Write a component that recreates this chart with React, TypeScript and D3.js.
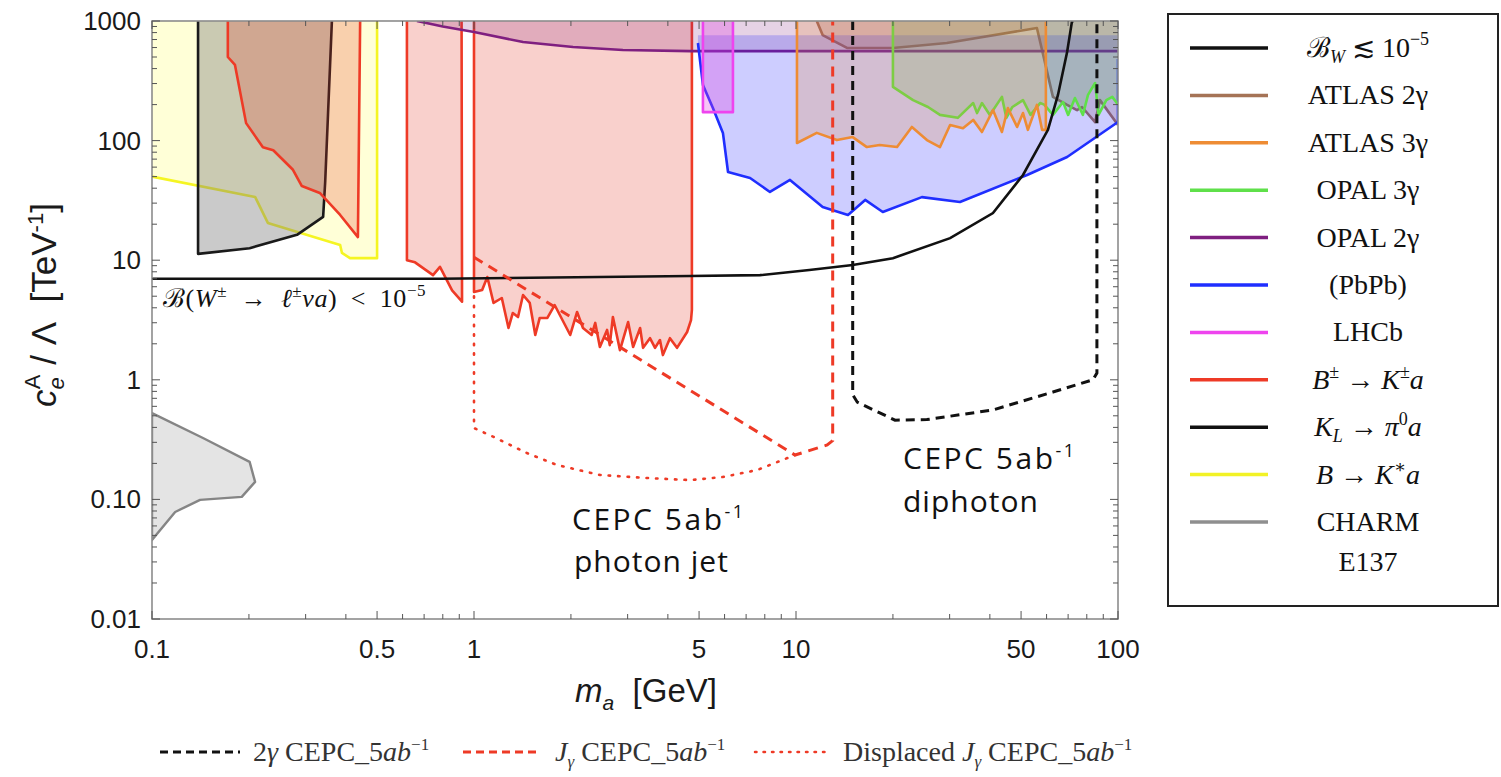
import React from 'react';
import * as d3 from 'd3';

type Pt = [number, number];

// ---------------- data: [m_a (GeV), c_e^A/Λ (TeV^-1)] ----------------
const bToKstarA: Pt[] = [[0.1, 50], [0.209, 33.8], [0.229, 20.5], [0.384, 13.4], [0.389, 11.5], [0.412, 10.4], [0.5, 10.4], [0.5, 1000]];
const kLtoPi0A: Pt[] = [[0.139, 1000], [0.139, 11.3], [0.201, 12.6], [0.282, 16.3], [0.34, 23], [0.345, 45], [0.352, 164], [0.362, 1000]];
const bToKaLow: Pt[] = [[0.172, 1000], [0.172, 500], [0.181, 429], [0.196, 140], [0.221, 88], [0.238, 83], [0.274, 57], [0.292, 41.7], [0.332, 36.5], [0.384, 23.9], [0.436, 15.6], [0.443, 1000]];
const bToKaMid: Pt[] = [[0.619, 1000], [0.619, 10.0], [0.656, 9.6], [0.746, 7.5], [0.784, 8.8], [0.855, 5.6], [0.918, 4.5], [0.915, 1000]];
const bToKaHigh: Pt[] = [
  [1.0, 1000], [1.0, 5.42], [1.06, 5.64], [1.10, 7.24], [1.15, 4.39], [1.22, 4.83], [1.28, 2.71], [1.32, 3.62], [1.37, 3.35],
  [1.42, 5.12], [1.49, 4.39], [1.55, 2.37], [1.60, 3.29], [1.69, 3.29], [1.78, 4.22], [1.99, 2.37], [2.09, 3.69], [2.18, 2.71],
  [2.32, 2.37], [2.38, 2.99], [2.46, 1.88], [2.59, 2.61], [2.64, 1.95], [2.70, 3.35], [2.84, 1.77], [3.01, 3.04], [3.12, 1.88],
  [3.28, 2.71], [3.35, 1.85], [3.52, 2.23], [3.65, 1.85], [3.78, 2.15], [3.86, 1.61], [4.06, 2.23], [4.27, 1.85], [4.59, 2.51],
  [4.72, 3.16], [4.75, 3.84], [4.75, 1000]];
const charmE137: Pt[] = [[0.1, 0.527], [0.144, 0.326], [0.201, 0.206], [0.209, 0.14], [0.19, 0.105], [0.141, 0.099], [0.118, 0.0785], [0.1, 0.0458]];
const opal2g: Pt[] = [[0.665, 1000], [0.8, 900], [1.0, 809], [1.42, 667], [2.03, 606], [2.9, 572], [4.7, 560], [100, 560]];
const pbpb: Pt[] = [[4.96, 655], [5.14, 292], [5.52, 187], [5.93, 116], [6.15, 54.6], [7.2, 48.7], [8.3, 37.2], [9.58, 46.9], [12.1, 27.9],
  [14.5, 23.9], [16.4, 31.9], [18.6, 25.3], [24.6, 33.7], [32.3, 30.7], [52.2, 51.6], [69.5, 72.9], [100, 143], [100, 480]];
const PBPB_CEILING = 760;
const lhcb: Pt[] = [[5.14, 1000], [5.14, 173], [6.37, 173], [6.37, 1000]];
const atlas3g: Pt[] = [[10.07, 1000], [10.07, 95.5], [11.6, 116], [13.4, 101], [15.0, 107], [16.6, 88.3], [18.2, 91.9], [20.6, 88.3], [22.9, 130],
  [25.5, 101], [28.0, 88.3], [30.1, 135], [33.0, 127], [35.5, 149], [37.8, 118], [40.9, 180], [43.6, 118], [45.5, 187], [48.6, 130],
  [50.7, 170], [52.5, 123], [56.0, 199], [58.1, 123], [59.7, 123], [59.7, 1000]];
const atlas2g: Pt[] = [[11.6, 1000], [12.1, 763], [14.4, 595], [20, 595], [29.4, 655], [56, 874], [62.8, 232], [69.5, 199], [74.6, 180],
  [77.3, 191], [84.9, 143], [87.9, 218], [100, 135]];
const opal3g: Pt[] = [[20, 1000], [20, 281], [23.1, 218], [25.7, 191], [28, 164], [31.8, 155], [35.5, 206], [36.5, 170], [37.8, 206], [40, 164],
  [43.6, 232], [45, 155], [47, 191], [50.7, 218], [53.5, 164], [57.3, 206], [59, 200], [62.8, 164], [67.5, 210], [70, 164], [73.5, 227],
  [77.8, 164], [80.7, 241], [84.9, 303], [87, 164], [92, 218], [96, 232], [100, 200]];
const bwLimit: Pt[] = [[0.1, 7.0], [0.784, 7.0], [4.69, 7.37], [7.73, 7.5], [11.0, 8.28], [15.0, 9.12], [20, 10.4], [30.1, 15.3], [40.9, 24.8],
  [50.7, 51.6], [60.6, 123], [65.1, 241], [69.5, 551], [71.9, 980], [72.5, 1000]];
const cepcDiphoton: Pt[] = [[15, 1000], [15, 0.75], [15.5, 0.65], [20.3, 0.46], [25.5, 0.465], [40.9, 0.56], [62.8, 0.79], [83.6, 1.0], [86, 1.14], [86, 1000]];
const cepcPhotonJet: Pt[] = [[1.0, 10.6], [9.93, 0.235], [12.5, 0.285], [13.0, 0.31], [13.0, 1000]];
const cepcDisplaced: Pt[] = [[1.0, 5], [1.0, 0.395], [1.15, 0.333], [1.46, 0.244], [1.81, 0.194], [2.46, 0.16], [3.44, 0.151], [4.69, 0.145],
  [5.93, 0.154], [7.57, 0.176], [9.93, 0.235]];

const xTickLabels: [number, string][] = [[0.1, '0.1'], [0.5, '0.5'], [1, '1'], [5, '5'], [10, '10'], [50, '50'], [100, '100']];
const yTickLabels: [number, string][] = [[1000, '1000'], [100, '100'], [10, '10'], [1, '1'], [0.1, '0.10'], [0.01, '0.01']];

const legendNames = ['BW', 'ATLAS 2γ', 'ATLAS 3γ', 'OPAL 3γ', 'OPAL 2γ', '(PbPb)', 'LHCb', 'B±', 'KL', 'BK*', 'CHARM'];
const legendColors = ['#111111', '#a57356', '#ee8c34', '#5fe04a', '#7f1f80', '#1f2eff', '#ee44ee', '#ee3a26', '#111111', '#f2f226', '#8f8f8f'];

// ---------------- layout ----------------
const W = 1501, H = 777;
const L = 152, R = 1118, T = 21, B = 619;
const YMAX = 1000;

export default function App() {
  const x = d3.scaleLog().domain([0.1, 100]).range([L, R]);
  const y = d3.scaleLog().domain([0.01, 1000]).range([B, T]);
  const line = d3.line<Pt>().x(d => x(d[0])).y(d => y(d[1]));
  const fillAbove = (pts: Pt[], ceil = YMAX) => {
    const poly: Pt[] = [[pts[0][0], ceil], ...pts, [pts[pts.length - 1][0], ceil]];
    return line(poly) + 'Z';
  };

  const region = (pts: Pt[], color: string, fill: string, op: number, key: string, ceil = YMAX, sw = 2.6) => (
    <g key={key}>
      <path d={fillAbove(pts, ceil)} fill={fill} fillOpacity={op} stroke="none" />
      <path d={line(pts) || ''} fill="none" stroke={color} strokeWidth={sw} strokeLinejoin="round" />
    </g>
  );

  const xt = x.ticks();
  const yt = y.ticks();
  const isDecade = (v: number) => Math.abs(Math.log10(v) - Math.round(Math.log10(v))) < 1e-6;
  const isFive = (v: number) => Math.abs(Math.log10(v / 5) - Math.round(Math.log10(v / 5))) < 1e-6;

  const serif = "'Liberation Serif', 'DejaVu Serif', serif";
  const sans = "'Liberation Sans', Arial, sans-serif";
  const legRowY = (i: number) => 48 + i * 47.4;
  const LX = 1368;

  const legendLabel = (i: number) => {
    const common = { x: LX, y: legRowY(i) + 9, textAnchor: 'middle' as const, fontFamily: serif, fontSize: 28, fill: '#111' };
    switch (i) {
      case 0: return <text {...common}>ℬ<tspan fontStyle="italic" fontSize={18} dy={6}>W</tspan><tspan dy={-6}>{' ≲ 10'}</tspan><tspan fontSize={18} dy={-12}>−5</tspan></text>;
      case 7: return <text {...common}><tspan fontStyle="italic">B</tspan><tspan fontSize={18} dy={-11}>±</tspan><tspan dy={11}>{'  →  '}</tspan><tspan fontStyle="italic">K</tspan><tspan fontSize={18} dy={-11}>±</tspan><tspan dy={11} fontStyle="italic">a</tspan></text>;
      case 8: return <text {...common}><tspan fontStyle="italic">K</tspan><tspan fontStyle="italic" fontSize={18} dy={6}>L</tspan><tspan dy={-6}>{'  →  '}</tspan><tspan fontStyle="italic">π</tspan><tspan fontSize={18} dy={-11}>0</tspan><tspan dy={11} fontStyle="italic">a</tspan></text>;
      case 9: return <text {...common}><tspan fontStyle="italic">B</tspan>{' → '}<tspan fontStyle="italic">K</tspan><tspan fontSize={18} dy={-11}>∗</tspan><tspan dy={11} fontStyle="italic">a</tspan></text>;
      case 10: return <text {...common}><tspan x={LX}>CHARM</tspan><tspan x={LX} dy={40}>E137</tspan></text>;
      default: return <text {...common}>{legendNames[i]}</text>;
    }
  };

  return (
    <svg width={W} height={H} style={{ position: 'absolute', left: 0, top: 0, background: '#fff' }}>
      <defs>
        <clipPath id="plot"><rect x={L} y={T} width={R - L} height={B - T} /></clipPath>
      </defs>
      <rect x={0} y={0} width={W} height={H} fill="#fff" />
      <g clipPath="url(#plot)">
        {region(bToKstarA, '#f5f522', '#ffff60', 0.25, 'bk')}
        {region(kLtoPi0A, '#1a1a1a', '#7a7a7a', 0.4, 'kl')}
        {region(bToKaLow, '#ee3a26', '#e8392a', 0.24, 'b1')}
        {region(bToKaMid, '#ee3a26', '#e8392a', 0.24, 'b2')}
        {region(bToKaHigh, '#ee3a26', '#e8392a', 0.24, 'b3')}
        <path d={(line(charmE137) || '') + 'Z'} fill="#e4e4e4" stroke="#858585" strokeWidth={2.4} strokeLinejoin="round" />
        {region(atlas2g, '#a57356', '#a0603a', 0.22, 'a2')}
        {region(opal2g, '#7f1f80', '#80207f', 0.2, 'o2')}
        {region(pbpb, '#1f2eff', '#1a1aff', 0.22, 'pb', PBPB_CEILING)}
        {region(lhcb, '#ee44ee', '#e040e0', 0.3, 'lh')}
        {region(opal3g, '#5fe04a', '#50c040', 0.2, 'o3')}
        {region(atlas3g, '#ee8c34', '#e88a30', 0.22, 'a3')}
        <path d={line(bwLimit) || ''} fill="none" stroke="#111" strokeWidth={2.6} />
        <path d={line(cepcDiphoton) || ''} fill="none" stroke="#111" strokeWidth={3} strokeDasharray="9 6" />
        <path d={line(cepcPhotonJet) || ''} fill="none" stroke="#ee3a26" strokeWidth={3} strokeDasharray="10 7" />
        <path d={line(cepcDisplaced) || ''} fill="none" stroke="#ee3a26" strokeWidth={2.6} strokeDasharray="1.5 8" strokeLinecap="round" />
      </g>

      {/* frame */}
      <rect x={L} y={T} width={R - L} height={B - T} fill="none" stroke="#8c8c8c" strokeWidth={1.6} />
      {xt.map((v, i) => {
        const len = isDecade(v) || isFive(v) ? 8 : 5;
        return <g key={'xt' + i} stroke="#555" strokeWidth={1}>
          <line x1={x(v)} x2={x(v)} y1={B} y2={B - len} />
          <line x1={x(v)} x2={x(v)} y1={T} y2={T + len} />
        </g>;
      })}
      {yt.map((v, i) => {
        const len = isDecade(v) ? 8 : 5;
        return <g key={'yt' + i} stroke="#555" strokeWidth={1}>
          <line x1={L} x2={L + len} y1={y(v)} y2={y(v)} />
          <line x1={R} x2={R - len} y1={y(v)} y2={y(v)} />
        </g>;
      })}
      {xTickLabels.map(([v, s]) => (
        <text key={'xl' + s} x={x(v)} y={658} textAnchor="middle" fontFamily={sans} fontSize={26} fill="#1a1a1a">{s}</text>
      ))}
      {yTickLabels.map(([v, s]) => (
        <text key={'yl' + s} x={141} y={y(v) + 9} textAnchor="end" fontFamily={sans} fontSize={26} fill="#1a1a1a">{s}</text>
      ))}

      {/* axis titles */}
      <text x={646} y={702} textAnchor="middle" fontFamily={sans} fontSize={33} fill="#1a1a1a">
        <tspan fontStyle="italic">m</tspan><tspan fontStyle="italic" fontSize={21} dy={8}>a</tspan><tspan dy={-8}>{'\u00a0\u00a0[GeV]'}</tspan>
      </text>
      <text transform="translate(56,305) rotate(-90)" textAnchor="middle" fontFamily={sans} fontSize={35} fill="#1a1a1a">
        <tspan fontStyle="italic">c</tspan><tspan fontStyle="italic" fontSize={22} dy={8}>e</tspan><tspan fontSize={22} dx={-12} dy={-24}>A</tspan><tspan dy={16}>{'\u00a0/ Λ\u00a0\u00a0[TeV'}</tspan><tspan fontSize={22} dy={-13}>-1</tspan><tspan dy={13}>]</tspan>
      </text>

      {/* in-plot annotations */}
      <text x={163} y={307} fontFamily={serif} fontSize={26} fill="#111" letterSpacing={0.6}>
        ℬ(<tspan fontStyle="italic">W</tspan><tspan fontSize={17} dy={-10}>±</tspan><tspan dy={10}>{'\u2002→\u2002'}</tspan><tspan fontStyle="italic">ℓ</tspan><tspan fontSize={17} dy={-10}>±</tspan><tspan dy={10} fontStyle="italic">νa</tspan>{')\u2002<\u200210'}<tspan fontSize={17} dy={-11}>−5</tspan>
      </text>
      <g fontFamily="'Open Sans', 'Liberation Sans', sans-serif" fontSize={30} fill="#111">
        <text x={572} y={530} letterSpacing={2.5}>CEPC 5ab<tspan fontSize={18} dy={-12}>-1</tspan></text>
        <text x={574} y={572} letterSpacing={1}>photon jet</text>
        <text x={903} y={469} letterSpacing={2.5}>CEPC 5ab<tspan fontSize={18} dy={-12}>-1</tspan></text>
        <text x={903} y={512} letterSpacing={1}>diphoton</text>
      </g>

      {/* right legend */}
      <rect x={1168} y={14} width={330} height={592} fill="#fff" stroke="#222" strokeWidth={2} />
      {legendNames.map((n, i) => (
        <g key={'lg' + n}>
          <line x1={1190} x2={1268} y1={legRowY(i)} y2={legRowY(i)} stroke={legendColors[i]} strokeWidth={3.5} />
          {legendLabel(i)}
        </g>
      ))}

      {/* bottom legend */}
      <g fontFamily={serif} fontSize={28} fill="#333">
        <line x1={160} x2={240} y1={752} y2={752} stroke="#111" strokeWidth={3} strokeDasharray="8 5" />
        <text x={253} y={761}>2<tspan fontStyle="italic">γ</tspan> CEPC_5<tspan fontStyle="italic">ab</tspan><tspan fontSize={17} dy={-11}>−1</tspan></text>
        <line x1={463} x2={540} y1={752} y2={752} stroke="#ee3a26" strokeWidth={3} strokeDasharray="8 5" />
        <text x={555} y={761}><tspan fontStyle="italic">J</tspan><tspan fontStyle="italic" fontSize={17} dy={6}>γ</tspan><tspan dy={-6}> CEPC_5</tspan><tspan fontStyle="italic">ab</tspan><tspan fontSize={17} dy={-11}>−1</tspan></text>
        <line x1={755} x2={830} y1={752} y2={752} stroke="#ee3a26" strokeWidth={2.5} strokeDasharray="1.5 7" strokeLinecap="round" />
        <text x={843} y={761}>Displaced <tspan fontStyle="italic">J</tspan><tspan fontStyle="italic" fontSize={17} dy={6}>γ</tspan><tspan dy={-6}> CEPC_5</tspan><tspan fontStyle="italic">ab</tspan><tspan fontSize={17} dy={-11}>−1</tspan></text>
      </g>
    </svg>
  );
}
